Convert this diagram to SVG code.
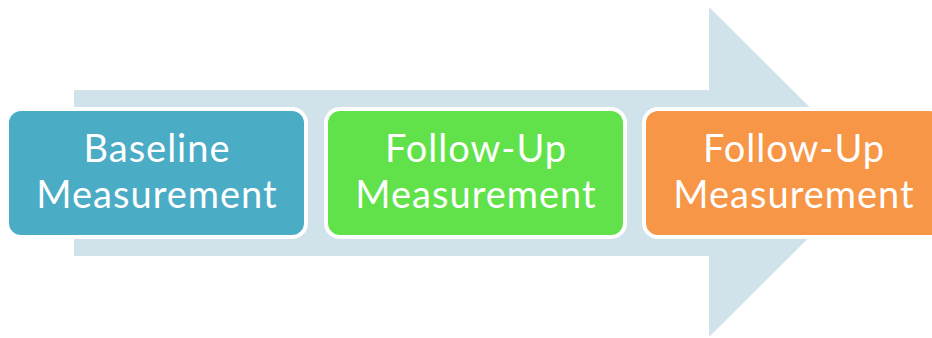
<svg xmlns="http://www.w3.org/2000/svg" width="932" height="338" viewBox="0 0 932 338">
<style>
.box{stroke:#fff;stroke-width:4}
.t{font-family:Lato,"Open Sans","Liberation Sans",sans-serif;font-size:38px;letter-spacing:1px;fill:#fff;text-anchor:middle}
</style>
<rect width="932" height="338" fill="#fff"/>
<g id="arrow">
<polygon points="74,90 709,90 709,7 875,172 709,337 709,256 74,256" fill="#D1E3EA"/>
</g>
<g id="connectors"></g>
<g id="baseline">
<rect class="box" x="7" y="109" width="299" height="128" rx="14" fill="#4BACC6"/>
<text class="t" x="157" y="162">Baseline</text>
<text class="t" x="157" y="208">Measurement</text>
</g>
<g id="followup1">
<rect class="box" x="326" y="109" width="299" height="128" rx="14" fill="#61E24A"/>
<text class="t" x="476" y="162">Follow-Up</text>
<text class="t" x="476" y="208">Measurement</text>
</g>
<g id="followup2">
<rect class="box" x="644" y="109" width="299" height="128" rx="14" fill="#F79646"/>
<text class="t" x="794" y="162">Follow-Up</text>
<text class="t" x="794" y="208">Measurement</text>
</g>
</svg>
